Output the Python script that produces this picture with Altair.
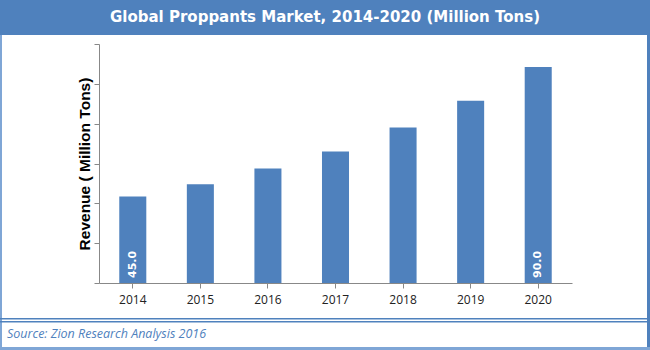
import altair as alt
import pandas as pd

years = ["2014", "2015", "2016", "2017", "2018", "2019", "2020"]
revenue = [45.0, 49.3, 54.8, 60.7, 69.0, 78.3, 90.0]
labels = ["45.0", "", "", "", "", "", "90.0"]
y_ticks = [15.0, 28.8, 42.7, 56.5, 70.3, 84.2, 98.0]

title_text = "Global Proppants Market, 2014-2020 (Million Tons)"
source_text = "Source: Zion Research Analysis 2016"
y_title = "Revenue ( Million Tons)"

BLUE = "#4F81BD"
W, H = 473, 239
PL, PT, PR, PB = 99, 44, 78, 67

df = pd.DataFrame({"year": years, "revenue": revenue, "label": labels})

x_enc = alt.X("year:N", sort=years,
              scale=alt.Scale(paddingInner=0.6, paddingOuter=0.3),
              axis=alt.Axis(title=None, labelAngle=0, labelFont="Open Sans",
                            labelFontSize=12, labelColor="#222222",
                            labelPadding=6, domainColor="#888888",
                            tickColor="#888888", tickSize=5, grid=False))
y_scale = alt.Scale(domain=[15, 98], nice=False, zero=False)

bars = alt.Chart(df).mark_bar(color=BLUE).encode(
    x=x_enc,
    y=alt.Y("revenue:Q", scale=y_scale,
            axis=alt.Axis(values=y_ticks, tickCount=20, labels=False,
                          labelOverlap=False,
                          title=y_title,
                          titleFont="Liberation Sans", titleFontSize=15.5,
                          titleFontWeight="bold", titleColor="#000000",
                          titlePadding=1, domainColor="#888888",
                          tickColor="#888888", tickSize=5, grid=False)),
    y2=alt.datum(15),
)

bar_labels = alt.Chart(df).mark_text(
    angle=270, align="left", baseline="middle", color="white",
    font="DejaVu Sans", fontSize=11, fontWeight="bold", dx=5
).encode(
    x=alt.X("year:N", sort=years),
    y=alt.datum(15),
    text="label:N",
)

def rect(x, x2, y, y2, color):
    return alt.Chart(df.head(1)).mark_rect(color=color).encode(
        x=alt.value(x - PL), x2=alt.value(x2 - PL),
        y=alt.value(y - PT), y2=alt.value(y2 - PT))

title_bar = rect(0, 650, 0, 35, BLUE)
left_b = rect(0, 2, 35, 350, "#7fa6d6")
right_b = rect(647, 650, 35, 350, BLUE)
bottom_b = rect(0, 650, 347, 350, "#7fa6d6")
sep1 = rect(0, 650, 318, 319.5, BLUE)
sep2 = rect(0, 650, 321, 322.5, BLUE)

title_mark = alt.Chart(df.head(1)).mark_text(
    text=title_text, color="white", font="DejaVu Sans", fontSize=15,
    fontWeight="bold", align="center", baseline="middle"
).encode(x=alt.value(325 - PL), y=alt.value(17 - PT))

source_mark = alt.Chart(df.head(1)).mark_text(
    text=source_text, color=BLUE, font="Open Sans", fontSize=12.5,
    fontStyle="italic", align="left", baseline="middle"
).encode(x=alt.value(7 - PL), y=alt.value(334 - PT))

chart = alt.layer(
    title_bar, left_b, right_b, bottom_b, sep1, sep2,
    bars, bar_labels, title_mark, source_mark
).properties(
    width=W, height=H,
    autosize=alt.AutoSizeParams(type="none"),
    padding={"left": PL, "top": PT, "right": PR, "bottom": PB},
    background="white",
).configure_view(stroke=None)

chart.save("out.html", embed_options={"renderer": "svg", "actions": False})
